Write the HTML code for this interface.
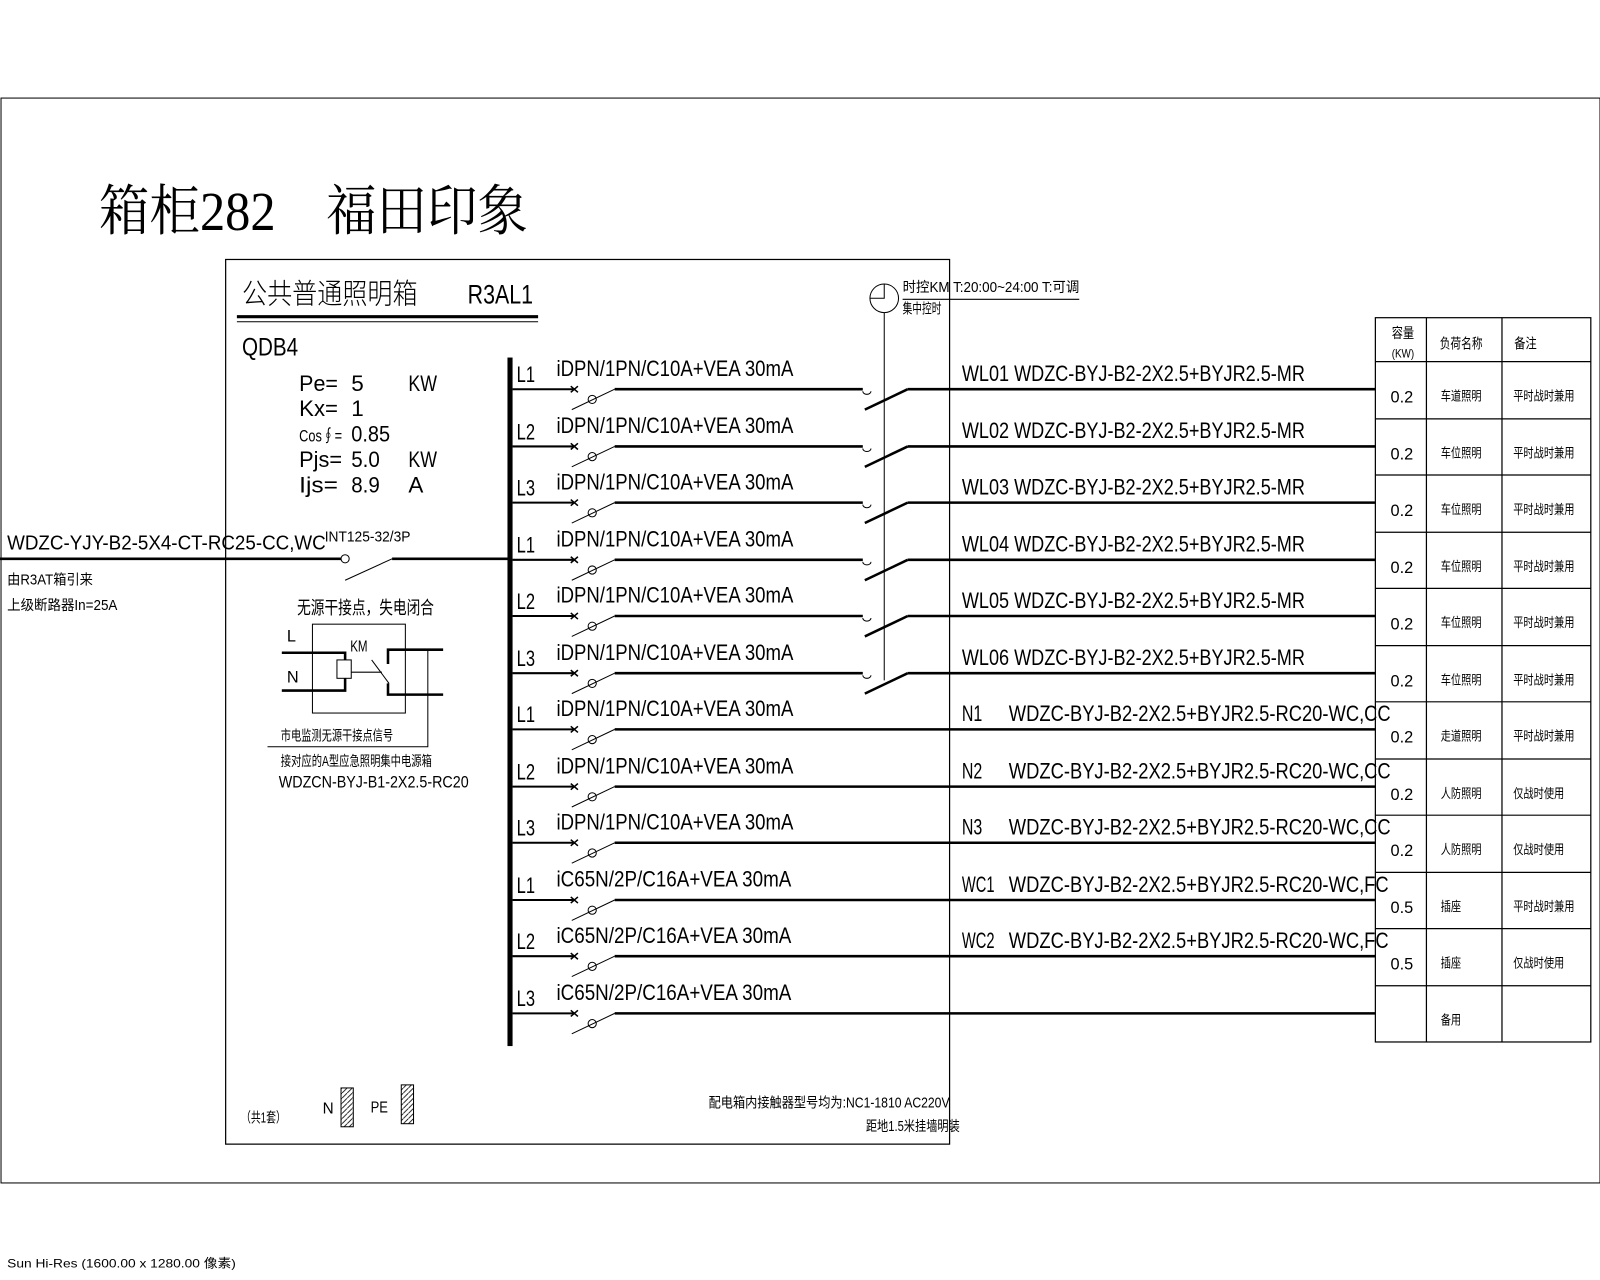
<!DOCTYPE html>
<html><head><meta charset="utf-8">
<style>
html,body{margin:0;padding:0;background:#fff;}
svg{display:block;}
text{font-family:"Liberation Sans","Noto Sans CJK SC",sans-serif;fill:#000;}
.s{font-family:"Liberation Serif","Noto Serif CJK SC",serif;}
.ln{stroke:#000;fill:none;}
</style></head>
<body>
<svg width="1600" height="1280" viewBox="0 0 1567 1253" preserveAspectRatio="none" xmlns="http://www.w3.org/2000/svg">
<rect x="1" y="96" width="1566" height="1062" class="ln" stroke-width="1"/>
<text x="97" y="225" class="s" font-size="54" textLength="420" lengthAdjust="spacingAndGlyphs">箱柜282　福田印象</text>
<rect x="221" y="254" width="709" height="866" class="ln" stroke-width="1.2"/>
<text x="237" y="297" font-size="28" font-weight="300" textLength="172" lengthAdjust="spacingAndGlyphs">公共普通照明箱</text>
<text x="458" y="297" font-size="26" textLength="64" lengthAdjust="spacingAndGlyphs">R3AL1</text>
<line x1="232" y1="310" x2="527" y2="310" class="ln" stroke-width="3"/>
<line x1="232" y1="315" x2="527" y2="315" class="ln" stroke-width="1"/>
<text x="237" y="348" font-size="24" textLength="55" lengthAdjust="spacingAndGlyphs">QDB4</text>
<g font-size="22">
<text x="293" y="383" textLength="38" lengthAdjust="spacingAndGlyphs">Pe=</text><text x="344" y="383">5</text><text x="400" y="383" textLength="28" lengthAdjust="spacingAndGlyphs">KW</text>
<text x="293" y="407" textLength="38" lengthAdjust="spacingAndGlyphs">Kx=</text><text x="344" y="407">1</text>
<text x="293" y="432" font-size="16" textLength="42" lengthAdjust="spacingAndGlyphs">Cos∮=</text><text x="344" y="432" textLength="38" lengthAdjust="spacingAndGlyphs">0.85</text>
<text x="293" y="457" textLength="42" lengthAdjust="spacingAndGlyphs">Pjs=</text><text x="344" y="457" textLength="28" lengthAdjust="spacingAndGlyphs">5.0</text><text x="400" y="457" textLength="28" lengthAdjust="spacingAndGlyphs">KW</text>
<text x="293" y="482" textLength="38" lengthAdjust="spacingAndGlyphs">Ijs=</text><text x="344" y="482" textLength="28" lengthAdjust="spacingAndGlyphs">8.9</text><text x="400" y="482">A</text>
</g>
<!-- incoming -->
<text x="7" y="538" font-size="20" textLength="312" lengthAdjust="spacingAndGlyphs">WDZC-YJY-B2-5X4-CT-RC25-CC,WC</text>
<text x="318" y="530" font-size="14" textLength="84" lengthAdjust="spacingAndGlyphs">INT125-32/3P</text>
<line x1="0" y1="547" x2="334" y2="547" class="ln" stroke-width="2.5"/>
<circle cx="338" cy="547" r="4" class="ln" stroke-width="1"/>
<line x1="338" y1="568" x2="384" y2="547" class="ln" stroke-width="1"/>
<line x1="384" y1="547" x2="500" y2="547" class="ln" stroke-width="2.5"/>
<text x="7" y="572" font-size="14" textLength="84" lengthAdjust="spacingAndGlyphs">由R3AT箱引来</text>
<text x="7" y="597" font-size="14" textLength="108" lengthAdjust="spacingAndGlyphs">上级断路器In=25A</text>
<text x="291" y="601" font-size="18" textLength="134" lengthAdjust="spacingAndGlyphs">无源干接点，失电闭合</text>
<rect x="306" y="611" width="91" height="87" class="ln" stroke-width="1"/>
<text x="281" y="628" font-size="16">L</text>
<text x="281" y="668" font-size="16">N</text>
<text x="343" y="638" font-size="15" textLength="17" lengthAdjust="spacingAndGlyphs">KM</text>
<polyline points="276,639 338,639 338,646" class="ln" stroke-width="2.5"/>
<polyline points="276,676 338,676 338,664" class="ln" stroke-width="2.5"/>
<rect x="330" y="646" width="14" height="18" class="ln" stroke-width="1"/>
<line x1="344" y1="658" x2="374" y2="658" class="ln" stroke-width="1"/>
<line x1="364" y1="646" x2="381" y2="669" class="ln" stroke-width="1"/>
<polyline points="434,636 380,636 380,650" class="ln" stroke-width="2.5"/>
<polyline points="434,680 380,680 380,669" class="ln" stroke-width="2.5"/>
<polyline points="419,636 419,731 262,731" class="ln" stroke-width="1"/>
<text x="275" y="725" font-size="14" textLength="110" lengthAdjust="spacingAndGlyphs">市电监测无源干接点信号</text>
<text x="275" y="750" font-size="14" textLength="148" lengthAdjust="spacingAndGlyphs">接对应的A型应急照明集中电源箱</text>
<text x="273" y="771" font-size="16" textLength="186" lengthAdjust="spacingAndGlyphs">WDZCN-BYJ-B1-2X2.5-RC20</text>
<!-- bus -->
<rect x="497" y="350" width="5" height="674" fill="#000"/>
<!-- control -->
<circle cx="866" cy="292" r="14" class="ln" stroke-width="1"/>
<polyline points="852,292 866,292 866,278" class="ln" stroke-width="1"/>
<line x1="866" y1="306" x2="866" y2="666" class="ln" stroke-width="1"/>
<line x1="884" y1="293" x2="1057" y2="293" class="ln" stroke-width="1"/>
<text x="884" y="286" font-size="14" textLength="173" lengthAdjust="spacingAndGlyphs">时控KM T:20:00~24:00 T:可调</text>
<text x="884" y="307" font-size="14" textLength="38" lengthAdjust="spacingAndGlyphs">集中控时</text>
<defs>
<g id="brk">
<line x1="502" y1="0" x2="563" y2="0" stroke="#000" stroke-width="2"/>
<path d="M559,-3 L566,3 M559,3 L566,-3" stroke="#000" stroke-width="1.5"/>
<circle cx="580" cy="10" r="4" fill="none" stroke="#000" stroke-width="1"/>
<line x1="560" y1="20" x2="602" y2="0" stroke="#000" stroke-width="1"/>
</g>
<g id="out1">
<line x1="602" y1="0" x2="845" y2="0" stroke="#000" stroke-width="2.5"/>
<path d="M845,2 a4,3 0 0 0 8,0" fill="none" stroke="#000" stroke-width="1"/>
<line x1="847" y1="20" x2="889" y2="0" stroke="#000" stroke-width="2.5"/>
<line x1="889" y1="0" x2="1347" y2="0" stroke="#000" stroke-width="2.5"/>
</g>
<g id="out2">
<line x1="602" y1="0" x2="1347" y2="0" stroke="#000" stroke-width="2.5"/>
</g>
</defs>
<use href="#brk" y="381"/><use href="#out1" y="381"/>
<use href="#brk" y="437"/><use href="#out1" y="437"/>
<use href="#brk" y="492"/><use href="#out1" y="492"/>
<use href="#brk" y="548"/><use href="#out1" y="548"/>
<use href="#brk" y="603"/><use href="#out1" y="603"/>
<use href="#brk" y="659"/><use href="#out1" y="659"/>
<use href="#brk" y="714"/><use href="#out2" y="714"/>
<use href="#brk" y="770"/><use href="#out2" y="770"/>
<use href="#brk" y="825"/><use href="#out2" y="825"/>
<use href="#brk" y="881"/><use href="#out2" y="881"/>
<use href="#brk" y="936"/><use href="#out2" y="936"/>
<use href="#brk" y="992"/><use href="#out2" y="992"/>
<g font-size="22">
<text x="506" y="374" textLength="18" lengthAdjust="spacingAndGlyphs">L1</text>
<text x="506" y="430" textLength="18" lengthAdjust="spacingAndGlyphs">L2</text>
<text x="506" y="485" textLength="18" lengthAdjust="spacingAndGlyphs">L3</text>
<text x="506" y="541" textLength="18" lengthAdjust="spacingAndGlyphs">L1</text>
<text x="506" y="596" textLength="18" lengthAdjust="spacingAndGlyphs">L2</text>
<text x="506" y="652" textLength="18" lengthAdjust="spacingAndGlyphs">L3</text>
<text x="506" y="707" textLength="18" lengthAdjust="spacingAndGlyphs">L1</text>
<text x="506" y="763" textLength="18" lengthAdjust="spacingAndGlyphs">L2</text>
<text x="506" y="818" textLength="18" lengthAdjust="spacingAndGlyphs">L3</text>
<text x="506" y="874" textLength="18" lengthAdjust="spacingAndGlyphs">L1</text>
<text x="506" y="929" textLength="18" lengthAdjust="spacingAndGlyphs">L2</text>
<text x="506" y="985" textLength="18" lengthAdjust="spacingAndGlyphs">L3</text>
<text x="545" y="368" textLength="232" lengthAdjust="spacingAndGlyphs">iDPN/1PN/C10A+VEA 30mA</text>
<text x="545" y="424" textLength="232" lengthAdjust="spacingAndGlyphs">iDPN/1PN/C10A+VEA 30mA</text>
<text x="545" y="479" textLength="232" lengthAdjust="spacingAndGlyphs">iDPN/1PN/C10A+VEA 30mA</text>
<text x="545" y="535" textLength="232" lengthAdjust="spacingAndGlyphs">iDPN/1PN/C10A+VEA 30mA</text>
<text x="545" y="590" textLength="232" lengthAdjust="spacingAndGlyphs">iDPN/1PN/C10A+VEA 30mA</text>
<text x="545" y="646" textLength="232" lengthAdjust="spacingAndGlyphs">iDPN/1PN/C10A+VEA 30mA</text>
<text x="545" y="701" textLength="232" lengthAdjust="spacingAndGlyphs">iDPN/1PN/C10A+VEA 30mA</text>
<text x="545" y="757" textLength="232" lengthAdjust="spacingAndGlyphs">iDPN/1PN/C10A+VEA 30mA</text>
<text x="545" y="812" textLength="232" lengthAdjust="spacingAndGlyphs">iDPN/1PN/C10A+VEA 30mA</text>
<text x="545" y="868" textLength="230" lengthAdjust="spacingAndGlyphs">iC65N/2P/C16A+VEA 30mA</text>
<text x="545" y="923" textLength="230" lengthAdjust="spacingAndGlyphs">iC65N/2P/C16A+VEA 30mA</text>
<text x="545" y="979" textLength="230" lengthAdjust="spacingAndGlyphs">iC65N/2P/C16A+VEA 30mA</text>
<text x="942" y="373" textLength="336" lengthAdjust="spacingAndGlyphs">WL01 WDZC-BYJ-B2-2X2.5+BYJR2.5-MR</text>
<text x="942" y="429" textLength="336" lengthAdjust="spacingAndGlyphs">WL02 WDZC-BYJ-B2-2X2.5+BYJR2.5-MR</text>
<text x="942" y="484" textLength="336" lengthAdjust="spacingAndGlyphs">WL03 WDZC-BYJ-B2-2X2.5+BYJR2.5-MR</text>
<text x="942" y="540" textLength="336" lengthAdjust="spacingAndGlyphs">WL04 WDZC-BYJ-B2-2X2.5+BYJR2.5-MR</text>
<text x="942" y="595" textLength="336" lengthAdjust="spacingAndGlyphs">WL05 WDZC-BYJ-B2-2X2.5+BYJR2.5-MR</text>
<text x="942" y="651" textLength="336" lengthAdjust="spacingAndGlyphs">WL06 WDZC-BYJ-B2-2X2.5+BYJR2.5-MR</text>
<text x="942" y="706" textLength="20" lengthAdjust="spacingAndGlyphs">N1</text>
<text x="942" y="762" textLength="20" lengthAdjust="spacingAndGlyphs">N2</text>
<text x="942" y="817" textLength="20" lengthAdjust="spacingAndGlyphs">N3</text>
<text x="942" y="873" textLength="32" lengthAdjust="spacingAndGlyphs">WC1</text>
<text x="942" y="928" textLength="32" lengthAdjust="spacingAndGlyphs">WC2</text>
<text x="988" y="706" textLength="374" lengthAdjust="spacingAndGlyphs">WDZC-BYJ-B2-2X2.5+BYJR2.5-RC20-WC,CC</text>
<text x="988" y="762" textLength="374" lengthAdjust="spacingAndGlyphs">WDZC-BYJ-B2-2X2.5+BYJR2.5-RC20-WC,CC</text>
<text x="988" y="817" textLength="374" lengthAdjust="spacingAndGlyphs">WDZC-BYJ-B2-2X2.5+BYJR2.5-RC20-WC,CC</text>
<text x="988" y="873" textLength="372" lengthAdjust="spacingAndGlyphs">WDZC-BYJ-B2-2X2.5+BYJR2.5-RC20-WC,FC</text>
<text x="988" y="928" textLength="372" lengthAdjust="spacingAndGlyphs">WDZC-BYJ-B2-2X2.5+BYJR2.5-RC20-WC,FC</text>
</g>
<!-- table -->
<g class="ln" stroke-width="1.2">
<rect x="1347" y="311" width="211" height="709"/>
<line x1="1397" y1="311" x2="1397" y2="1020"/>
<line x1="1471" y1="311" x2="1471" y2="1020"/>
<line x1="1347" y1="354" x2="1558" y2="354"/>
<line x1="1347" y1="410" x2="1558" y2="410"/>
<line x1="1347" y1="465" x2="1558" y2="465"/>
<line x1="1347" y1="521" x2="1558" y2="521"/>
<line x1="1347" y1="576" x2="1558" y2="576"/>
<line x1="1347" y1="632" x2="1558" y2="632"/>
<line x1="1347" y1="687" x2="1558" y2="687"/>
<line x1="1347" y1="743" x2="1558" y2="743"/>
<line x1="1347" y1="798" x2="1558" y2="798"/>
<line x1="1347" y1="854" x2="1558" y2="854"/>
<line x1="1347" y1="909" x2="1558" y2="909"/>
<line x1="1347" y1="965" x2="1558" y2="965"/>
</g>
<g font-size="14">
<text x="1363" y="331" textLength="22" lengthAdjust="spacingAndGlyphs">容量</text>
<text x="1363" y="350" font-size="12" textLength="22" lengthAdjust="spacingAndGlyphs">(KW)</text>
<text x="1410" y="341" textLength="42" lengthAdjust="spacingAndGlyphs">负荷名称</text>
<text x="1483" y="341" textLength="22" lengthAdjust="spacingAndGlyphs">备注</text>
</g>
<g font-size="16" text-anchor="middle">
<text x="1373" y="394">0.2</text><text x="1373" y="450">0.2</text><text x="1373" y="505">0.2</text><text x="1373" y="561">0.2</text>
<text x="1373" y="616">0.2</text><text x="1373" y="672">0.2</text><text x="1373" y="727">0.2</text><text x="1373" y="783">0.2</text>
<text x="1373" y="838">0.2</text><text x="1373" y="894">0.5</text><text x="1373" y="949">0.5</text>
</g>
<g font-size="13">
<text x="1411" y="392" textLength="40" lengthAdjust="spacingAndGlyphs">车道照明</text><text x="1482" y="392" textLength="60" lengthAdjust="spacingAndGlyphs">平时战时兼用</text>
<text x="1411" y="448" textLength="40" lengthAdjust="spacingAndGlyphs">车位照明</text><text x="1482" y="448" textLength="60" lengthAdjust="spacingAndGlyphs">平时战时兼用</text>
<text x="1411" y="503" textLength="40" lengthAdjust="spacingAndGlyphs">车位照明</text><text x="1482" y="503" textLength="60" lengthAdjust="spacingAndGlyphs">平时战时兼用</text>
<text x="1411" y="559" textLength="40" lengthAdjust="spacingAndGlyphs">车位照明</text><text x="1482" y="559" textLength="60" lengthAdjust="spacingAndGlyphs">平时战时兼用</text>
<text x="1411" y="614" textLength="40" lengthAdjust="spacingAndGlyphs">车位照明</text><text x="1482" y="614" textLength="60" lengthAdjust="spacingAndGlyphs">平时战时兼用</text>
<text x="1411" y="670" textLength="40" lengthAdjust="spacingAndGlyphs">车位照明</text><text x="1482" y="670" textLength="60" lengthAdjust="spacingAndGlyphs">平时战时兼用</text>
<text x="1411" y="725" textLength="40" lengthAdjust="spacingAndGlyphs">走道照明</text><text x="1482" y="725" textLength="60" lengthAdjust="spacingAndGlyphs">平时战时兼用</text>
<text x="1411" y="781" textLength="40" lengthAdjust="spacingAndGlyphs">人防照明</text><text x="1482" y="781" textLength="50" lengthAdjust="spacingAndGlyphs">仅战时使用</text>
<text x="1411" y="836" textLength="40" lengthAdjust="spacingAndGlyphs">人防照明</text><text x="1482" y="836" textLength="50" lengthAdjust="spacingAndGlyphs">仅战时使用</text>
<text x="1411" y="892" textLength="20" lengthAdjust="spacingAndGlyphs">插座</text><text x="1482" y="892" textLength="60" lengthAdjust="spacingAndGlyphs">平时战时兼用</text>
<text x="1411" y="947" textLength="20" lengthAdjust="spacingAndGlyphs">插座</text><text x="1482" y="947" textLength="50" lengthAdjust="spacingAndGlyphs">仅战时使用</text>
<text x="1411" y="1003" textLength="20" lengthAdjust="spacingAndGlyphs">备用</text>
</g>
<!-- bottom -->
<defs><pattern id="h" width="5" height="5" patternUnits="userSpaceOnUse"><path d="M0,5 L5,0" stroke="#000" stroke-width="0.8"/></pattern></defs>
<text x="236" y="1099" font-size="14" textLength="44" lengthAdjust="spacingAndGlyphs">（共1套）</text>
<text x="316" y="1090" font-size="15">N</text>
<rect x="334" y="1065" width="12" height="38" fill="url(#h)" stroke="#000" stroke-width="1"/>
<text x="363" y="1089" font-size="15" textLength="17" lengthAdjust="spacingAndGlyphs">PE</text>
<rect x="393" y="1062" width="12" height="38" fill="url(#h)" stroke="#000" stroke-width="1"/>
<text x="694" y="1084" font-size="14" textLength="236" lengthAdjust="spacingAndGlyphs">配电箱内接触器型号均为:NC1-1810 AC220V</text>
<text x="848" y="1107" font-size="14" textLength="92" lengthAdjust="spacingAndGlyphs">距地1.5米挂墙明装</text>
<text x="7" y="1241" font-size="12" fill="#444" textLength="224" lengthAdjust="spacingAndGlyphs">Sun Hi-Res (1600.00 x 1280.00 像素)</text>
</svg>
</body></html>
